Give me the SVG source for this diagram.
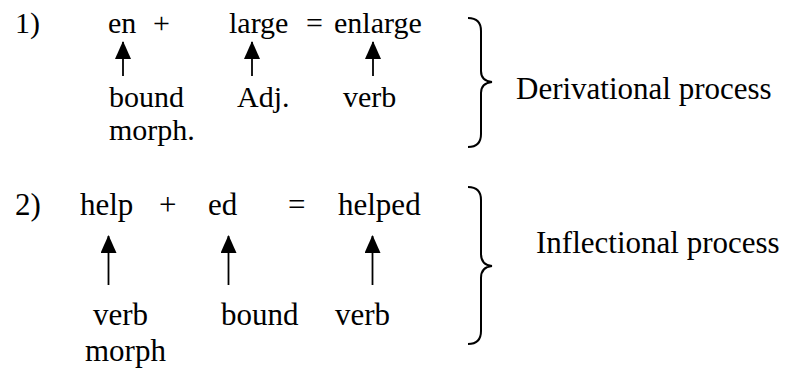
<svg xmlns="http://www.w3.org/2000/svg" width="790" height="371" viewBox="0 0 790 371">
<defs>
<style>
text{font-family:"Liberation Serif","Times New Roman","DejaVu Serif",serif;fill:#000}
.r1{font-size:30px}
.r2{font-size:31px}
.arrow{stroke:#000;stroke-width:1.8;fill:none}
.brace{stroke:#000;stroke-width:2;fill:none}
</style>
<marker id="ah" markerUnits="userSpaceOnUse" markerWidth="18" markerHeight="16" viewBox="0 0 18 16" refX="17" refY="8" orient="auto">
<path d="M0,0 L18,8 L0,16 Z" fill="#000"/>
</marker>
</defs>
<rect width="790" height="371" fill="#fff"/>
<g id="ex1" font-family="Liberation Serif, Times New Roman, serif">
<text class="r1" x="15" y="33">1)</text>
<text class="r1" x="108" y="33">en</text>
<text class="r1" x="153" y="33">+</text>
<text class="r1" x="229" y="33">large</text>
<text class="r1" x="306" y="33">=</text>
<text class="r1" x="334" y="33">enlarge</text>
</g>
<g id="lab1">
<text class="r1" x="109" y="107">bound</text>
<text class="r1" x="109" y="140">morph.</text>
<text class="r1" x="237" y="107">Adj.</text>
<text class="r1" x="343" y="107">verb</text>
</g>
<g id="ex2">
<text class="r2" x="15" y="215">2)</text>
<text class="r2" x="80" y="215">help</text>
<text class="r2" x="159" y="215">+</text>
<text class="r2" x="208" y="215">ed</text>
<text class="r2" x="288" y="215">=</text>
<text class="r2" x="338" y="215">helped</text>
</g>
<g id="lab2">
<text class="r2" x="93" y="325">verb</text>
<text class="r2" x="85" y="361">morph</text>
<text class="r2" x="221" y="325">bound</text>
<text class="r2" x="335" y="325">verb</text>
</g>
<g id="derivational">
<path class="brace" d="M468,18 Q481,18 481,31 L481,71 Q481,81 492,82 Q481,83 481,93 L481,134 Q481,147 468,147"/>
<text class="r2" x="516" y="99">Derivational process</text>
</g>
<g id="inflectional">
<path class="brace" d="M468,187 Q481,187 481,200 L481,254 Q481,265 492,266 Q481,267 481,278 L481,331 Q481,344 468,344"/>
<text class="r2" x="536" y="253">Inflectional process</text>
</g>
<g id="connectors">
<line class="arrow" x1="123" y1="76" x2="123" y2="42" marker-end="url(#ah)"/>
<line class="arrow" x1="252" y1="76" x2="252" y2="42" marker-end="url(#ah)"/>
<line class="arrow" x1="373" y1="76" x2="373" y2="42" marker-end="url(#ah)"/>
<line class="arrow" x1="108.5" y1="285" x2="108.5" y2="236" marker-end="url(#ah)"/>
<line class="arrow" x1="228.5" y1="285" x2="228.5" y2="236" marker-end="url(#ah)"/>
<line class="arrow" x1="372.5" y1="285" x2="372.5" y2="236" marker-end="url(#ah)"/>
</g>
</svg>
